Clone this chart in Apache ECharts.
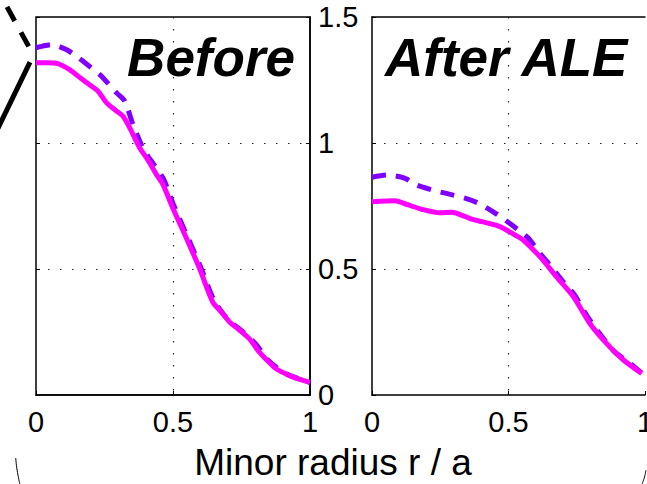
<!DOCTYPE html>
<html><head><meta charset="utf-8">
<script src="https://cdn.jsdelivr.net/npm/echarts@6/dist/echarts.min.js"></script>
<style>html,body{margin:0;padding:0;background:#fff}#c{width:647px;height:484px}</style>
</head><body><div id="c"></div>
<script>
// ---- data ----
var xTicks = [0, 0.5, 1];
var yTicks = [0, 0.5, 1, 1.5];
var panelTitles = ['Before', 'After ALE'];
var xAxisTitle = 'Minor radius r / a';

var rBeforeDash = [0, 0.057, 0.112, 0.154, 0.209, 0.239, 0.294, 0.324, 0.354, 0.39, 0.409, 0.464, 0.5, 0.55, 0.6, 0.65, 0.7, 0.75, 0.8, 0.85, 0.9, 0.95, 1.0];
var vBeforeDash = [1.378, 1.39, 1.37, 1.339, 1.292, 1.265, 1.199, 1.166, 1.073, 0.98, 0.947, 0.86, 0.76, 0.635, 0.51, 0.375, 0.30, 0.255, 0.205, 0.135, 0.092, 0.068, 0.05];

var rBeforeSolid = [0, 0.04, 0.08, 0.124, 0.16, 0.203, 0.227, 0.257, 0.29, 0.317, 0.342, 0.379, 0.41, 0.44, 0.464, 0.5, 0.549, 0.597, 0.645, 0.676, 0.706, 0.74, 0.779, 0.815, 0.846, 0.876, 0.925, 0.96, 1.0];
var vBeforeSolid = [1.318, 1.318, 1.315, 1.29, 1.26, 1.225, 1.205, 1.16, 1.13, 1.107, 1.06, 0.98, 0.93, 0.874, 0.834, 0.74, 0.622, 0.502, 0.369, 0.33, 0.29, 0.26, 0.223, 0.17, 0.135, 0.104, 0.077, 0.063, 0.05];

var rAfterDash = [0, 0.053, 0.121, 0.164, 0.23, 0.28, 0.34, 0.39, 0.444, 0.488, 0.536, 0.573, 0.615, 0.646, 0.695, 0.74, 0.79, 0.84, 0.89, 0.94, 0.988];
var vAfterDash = [0.864, 0.873, 0.86, 0.833, 0.811, 0.798, 0.781, 0.761, 0.727, 0.694, 0.655, 0.622, 0.562, 0.523, 0.456, 0.40, 0.31, 0.235, 0.17, 0.13, 0.087];

var rAfterSolid = [0, 0.084, 0.133, 0.182, 0.249, 0.292, 0.328, 0.365, 0.402, 0.451, 0.481, 0.524, 0.554, 0.615, 0.676, 0.738, 0.798, 0.859, 0.921, 0.988];
var vAfterSolid = [0.767, 0.771, 0.754, 0.737, 0.723, 0.725, 0.714, 0.698, 0.688, 0.675, 0.662, 0.635, 0.615, 0.549, 0.469, 0.39, 0.284, 0.205, 0.139, 0.086];

// fragments of neighbouring (cropped) panels, in left-panel data units
var decoDashX = [-0.1058, -0.0255];
var decoDashY = [1.54, 1.381];
var decoSolidX = [-0.0219, -0.168];
var decoSolidY = [1.321, 0.993];
var arcLeftX = [-0.074, -0.069, -0.059];
var arcLeftY = [-0.25, -0.298, -0.353];
var arcRightX = [2.226, 2.221, 2.212];
var arcRightY = [-0.298, -0.325, -0.353];

function zip(a, b) { return a.map(function (v, i) { return [v, b[i]]; }); }

var FONT = 'Liberation Sans';
var MAGENTA = '#ff00ff';
var PURPLE = '#8000ff';
var dotted = { color: '#222', width: 1.2, type: [1.5, 10.5] };

var chart = echarts.init(document.getElementById('c'), null, { renderer: 'svg' });

function xAxisFor(g) {
  return {
    type: 'value', gridIndex: g, min: xTicks[0], max: xTicks[xTicks.length - 1], interval: 0.5,
    axisLine: { show: true, onZero: false, lineStyle: { color: '#000', width: 1.5 } },
    axisTick: { show: true, inside: true, length: 4, lineStyle: { color: '#000' } },
    axisLabel: { fontSize: 29, color: '#000', fontFamily: FONT, margin: 12, showMinLabel: true, showMaxLabel: true,
                 alignMinLabel: 'center', alignMaxLabel: 'center', hideOverlap: false },
    splitLine: { show: true, showMinLine: false, showMaxLine: false, lineStyle: dotted }
  };
}

// hidden full-canvas grid, in left-panel units, for the cropped neighbour fragments
var PX = 274, PY = 252;
var fullMinX = -36 / PX, fullMaxX = (647 - 36) / PX;
var fullMinY = (395 - 484) / PY, fullMaxY = 395 / PY;

var option = {
  backgroundColor: '#fff',
  animation: false,
  grid: [
    { left: 36, top: 17, width: 274, height: 378, show: true, borderColor: '#000', borderWidth: 1.5, backgroundColor: 'transparent', outerBoundsMode: 'none', containLabel: false },
    { left: 372, top: 17, width: 273, height: 378, show: false, outerBoundsMode: 'none', containLabel: false },
    { left: 0, top: 0, width: 647, height: 484, show: false, outerBoundsMode: 'none', containLabel: false }
  ],
  xAxis: [
    xAxisFor(0),
    xAxisFor(1),
    { type: 'value', gridIndex: 1, position: 'top', min: 0, max: 1,
      axisLine: { show: true, onZero: false, lineStyle: { color: '#000', width: 1.5 } },
      axisTick: { show: false }, axisLabel: { show: false }, splitLine: { show: false } },
    { type: 'value', gridIndex: 2, min: fullMinX, max: fullMaxX, show: false }
  ],
  yAxis: [
    { type: 'value', gridIndex: 0, position: 'right', min: yTicks[0], max: yTicks[yTicks.length - 1], interval: 0.5,
      axisLine: { show: true, onZero: false, lineStyle: { color: '#000', width: 1.5 } },
      axisTick: { show: true, inside: true, length: 4, lineStyle: { color: '#000' } },
      axisLabel: { fontSize: 29, color: '#000', fontFamily: FONT, margin: 8 },
      splitLine: { show: true, showMinLine: false, showMaxLine: false, lineStyle: dotted } },
    { type: 'value', gridIndex: 1, position: 'left', min: 0, max: 1.5, interval: 0.5,
      axisLine: { show: true, onZero: false, lineStyle: { color: '#000', width: 1.5 } },
      axisTick: { show: true, inside: true, length: 4, lineStyle: { color: '#000' } },
      axisLabel: { show: false },
      splitLine: { show: true, showMinLine: false, showMaxLine: false, lineStyle: dotted } },
    { type: 'value', gridIndex: 0, position: 'left', min: 0, max: 1.5, interval: 0.5,
      axisLine: { show: false }, axisTick: { show: true, inside: true, length: 4, lineStyle: { color: '#000' } },
      axisLabel: { show: false }, splitLine: { show: false } },
    { type: 'value', gridIndex: 2, min: fullMinY, max: fullMaxY, show: false }
  ],
  series: [
    { type: 'line', xAxisIndex: 0, yAxisIndex: 0, data: zip(rBeforeDash, vBeforeDash), showSymbol: false, clip: true, smooth: 0.25,
      lineStyle: { color: PURPLE, width: 5, type: [14, 10], cap: 'butt' } },
    { type: 'line', xAxisIndex: 0, yAxisIndex: 0, data: zip(rBeforeSolid, vBeforeSolid), showSymbol: false, clip: true, smooth: 0.25,
      lineStyle: { color: MAGENTA, width: 5 } },
    { type: 'line', xAxisIndex: 1, yAxisIndex: 1, data: zip(rAfterDash, vAfterDash), showSymbol: false, clip: true, smooth: 0.25,
      lineStyle: { color: PURPLE, width: 5, type: [14, 10], cap: 'butt' } },
    { type: 'line', xAxisIndex: 1, yAxisIndex: 1, data: zip(rAfterSolid, vAfterSolid), showSymbol: false, clip: true, smooth: 0.25,
      lineStyle: { color: MAGENTA, width: 5 } },
    { type: 'line', xAxisIndex: 3, yAxisIndex: 3, data: zip(decoDashX, decoDashY), showSymbol: false, clip: false,
      lineStyle: { color: '#000', width: 5, type: [16, 13], cap: 'butt' } },
    { type: 'line', xAxisIndex: 3, yAxisIndex: 3, data: zip(decoSolidX, decoSolidY), showSymbol: false, clip: false,
      lineStyle: { color: '#000', width: 5 } },
    { type: 'line', xAxisIndex: 3, yAxisIndex: 3, data: zip(arcLeftX, arcLeftY), showSymbol: false, clip: false, smooth: true,
      lineStyle: { color: '#000', width: 1 } },
    { type: 'line', xAxisIndex: 3, yAxisIndex: 3, data: zip(arcRightX, arcRightY), showSymbol: false, clip: false, smooth: true,
      lineStyle: { color: '#000', width: 1 } }
  ],
  graphic: [
    { type: 'text', x: 295, y: 57, z: 100,
      style: { text: panelTitles[0], fontSize: 53, fontWeight: 'bold', fontStyle: 'italic', fontFamily: FONT, fill: '#000',
               align: 'right', verticalAlign: 'middle', textAlign: 'right', textVerticalAlign: 'middle' } },
    { type: 'text', x: 385, y: 57, z: 100,
      style: { text: panelTitles[1], fontSize: 53, fontWeight: 'bold', fontStyle: 'italic', fontFamily: FONT, fill: '#000',
               align: 'left', verticalAlign: 'middle', textAlign: 'left', textVerticalAlign: 'middle' } },
    { type: 'text', x: 333, y: 462, z: 100,
      style: { text: xAxisTitle, fontSize: 37, fontFamily: FONT, fill: '#000',
               align: 'center', verticalAlign: 'middle', textAlign: 'center', textVerticalAlign: 'middle' } }
  ]
};
chart.setOption(option);
</script>
</body></html>
